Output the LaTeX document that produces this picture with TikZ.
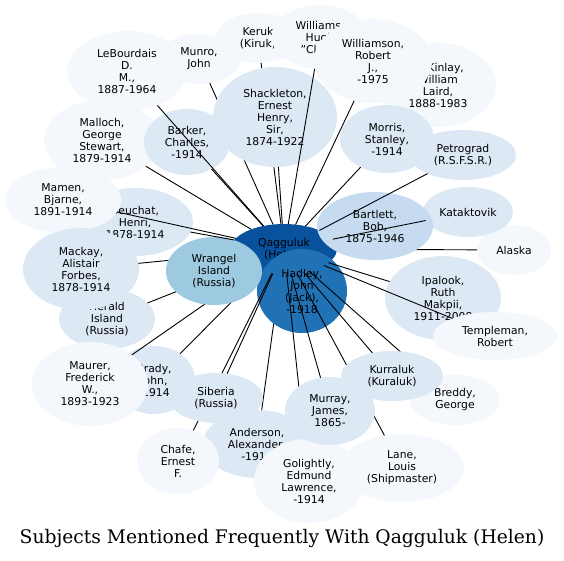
\documentclass[tikz,border=0pt]{standalone}
\usepackage{fontspec}
\setmainfont{DejaVu Sans}
\newfontfamily\titlefont{DejaVu Serif}
\usetikzlibrary{shapes.geometric}
\definecolor{blues0}{HTML}{F4F8FD}
\definecolor{blues1}{HTML}{DCE9F5}
\definecolor{blues2}{HTML}{C6DBEF}
\definecolor{blues3}{HTML}{9ECAE1}
\definecolor{blues5}{HTML}{2171B5}
\definecolor{blues6}{HTML}{08519C}
\tikzset{
  subj/.style={ellipse, inner sep=0pt, outer sep=0pt, align=center, font=\fontsize{10.8}{12}\selectfont},
  esize/.style 2 args={minimum width=#1pt, minimum height=#2pt},
  rare/.style={subj, fill=blues0},
  some/.style={subj, fill=blues1},
  often/.style={subj, fill=blues2},
  more/.style={subj, fill=blues3},
  most/.style={subj, fill=blues5},
  ego/.style={subj, fill=blues6},
  link/.style={draw=black, line width=0.9pt}
}

\begin{document}
\begin{tikzpicture}[x=1pt, y=-1pt]
\useasboundingbox (0,0) rectangle (564,560);

% centre and outer ring
\node[ego, esize={106}{50}] (qagguluk) at (284,249) {Qagguluk\\(Helen)};
\node[rare, esize={84}{50}] (keruk) at (258,38) {Keruk\\(Kiruk)};
\node[rare, esize={96}{64}] (williams) at (320,37) {Williams,\\Hugh\\"Clam"};
\node[rare, esize={116}{84}] (mckinlay) at (438,85) {McKinlay,\\William\\Laird,\\1888-1983};
\node[rare, esize={118}{84}] (williamson) at (373,61) {Williamson,\\Robert\\J.,\\-1975};
\node[rare, esize={84}{50}] (munro) at (199,59) {Munro,\\John};
\node[rare, esize={120}{80}] (lebourdais) at (127,71) {LeBourdais\\D.\\M.,\\1887-1964};
\node[rare, esize={116}{80}] (malloch) at (102,140) {Malloch,\\George\\Stewart,\\1879-1914};
\node[some, esize={86}{66}] (barker) at (187,142) {Barker,\\Charles,\\-1914};
\node[some, esize={94}{68}] (morris) at (387,139) {Morris,\\Stanley,\\-1914};
\node[some, esize={106}{50}] (petrograd) at (463,155) {Petrograd\\(R.S.F.S.R.)};
\node[some, esize={116}{68}] (beuchat) at (135,222) {Beuchat,\\Henri,\\1878-1914};
\node[rare, esize={116}{66}] (mamen) at (63,200) {Mamen,\\Bjarne,\\1891-1914};
\node[some, esize={96}{60}] (herald) at (107,319) {Herald\\Island\\(Russia)};
\node[some, esize={116}{82}] (mackay) at (81,269) {Mackay,\\Alistair\\Forbes,\\1878-1914};
\node[some, esize={82}{68}] (brady) at (154,380) {Brady,\\John,\\-1914};
\node[rare, esize={116}{84}] (maurer) at (90,384) {Maurer,\\Frederick\\W.,\\1893-1923};
\node[some, esize={108}{68}] (anderson) at (257,444) {Anderson,\\Alexander,\\-1914};
\node[rare, esize={82}{66}] (chafe) at (178,461) {Chafe,\\Ernest\\F.};
\node[rare, esize={110}{84}] (golightly) at (309,481) {Golightly,\\Edmund\\Lawrence,\\-1914};
\node[rare, esize={124}{68}] (lane) at (402,468) {Lane,\\Louis\\(Shipmaster)};
\node[rare, esize={90}{50}] (breddy) at (455,400) {Breddy,\\George};
\node[rare, esize={74}{50}] (alaska) at (514,250) {Alaska};
\node[some, esize={90}{50}] (kataktovik) at (468,212) {Kataktovik};
\node[some, esize={116}{84}] (ipalook) at (443,298) {Ipalook,\\Ruth\\Makpii,\\1911-2008};
\node[rare, esize={124}{48}] (templeman) at (495,336) {Templeman,\\Robert};

\draw[link] (anderson) -- (qagguluk);
\node[most, esize={90}{84}] (hadley) at (302,291) {Hadley,\\John\\(Jack),\\-1918};

% links hidden under the inner ring
\draw[link] (munro) -- (qagguluk); \draw[link] (keruk) -- (qagguluk);
\draw[link] (alaska) -- (qagguluk);
\draw[link] (mackay) -- (qagguluk); \draw[link] (herald) -- (qagguluk);
\draw[link] (maurer) -- (qagguluk); \draw[link] (brady) -- (qagguluk);
\draw[link] (golightly) -- (qagguluk); \draw[link] (lane) -- (qagguluk);
\draw[link] (breddy) -- (qagguluk); \draw[link] (chafe) -- (qagguluk);

% inner ring
\node[some, esize={124}{100}] (shackleton) at (275,117) {Shackleton,\\Ernest\\Henry,\\Sir,\\1874-1922};
\node[often, esize={116}{68}] (bartlett) at (375,226) {Bartlett,\\Bob,\\1875-1946};
\node[more, esize={96}{68}] (wrangel) at (214,271) {Wrangel\\Island\\(Russia)};
\node[some, esize={90}{68}] (murray) at (330,411) {Murray,\\James,\\1865-};
\node[some, esize={102}{50}] (kurraluk) at (392,376) {Kurraluk\\(Kuraluk)};
\node[some, esize={94}{50}] (siberia) at (216,398) {Siberia\\(Russia)};

% links on top
\draw[link] (williams) -- (qagguluk); \draw[link] (williamson) -- (qagguluk);
\draw[link] (shackleton) -- (qagguluk); \draw[link] (lebourdais) -- (qagguluk);
\draw[link] (barker) -- (qagguluk); \draw[link] (malloch) -- (qagguluk);
\draw[link] (mamen) -- (qagguluk); \draw[link] (beuchat) -- (qagguluk);
\draw[link] (morris) -- (qagguluk); \draw[link] (petrograd) -- (qagguluk);
\draw[link] (kataktovik) -- (qagguluk); \draw[link] (ipalook) -- (qagguluk);
\draw[link] (templeman) -- (qagguluk); \draw[link] (kurraluk) -- (qagguluk);
\draw[link] (murray) -- (qagguluk); \draw[link] (siberia) -- (qagguluk);

\node[font=\titlefont\fontsize{18.7}{22}\selectfont] (title) at (282,538) {Subjects Mentioned Frequently With Qagguluk (Helen)};
\end{tikzpicture}
\end{document}
